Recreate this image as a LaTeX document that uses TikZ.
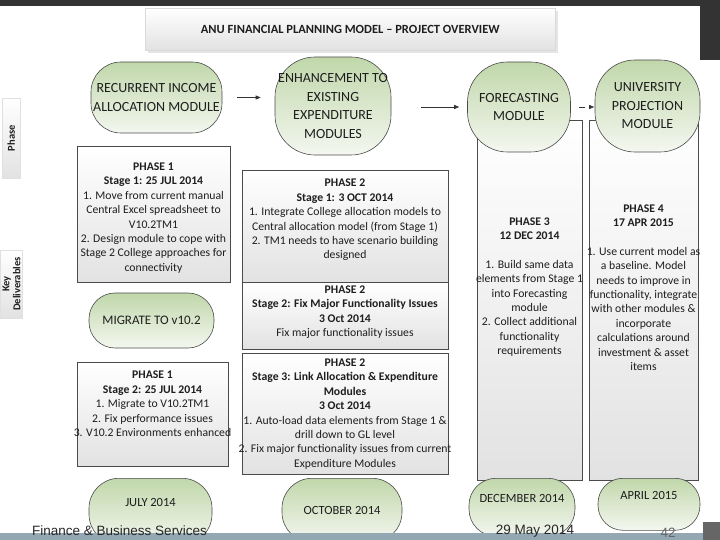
\documentclass[tikz,border=0pt]{standalone}
\usepackage{fontspec}
\setmainfont{Carlito}
\newfontfamily\arialf{Liberation Sans}
\usetikzlibrary{arrows.meta}
\definecolor{gtop}{RGB}{192,215,170}
\definecolor{gbot}{RGB}{244,247,240}
\definecolor{bord}{RGB}{75,75,75}
\definecolor{boxbot}{RGB}{226,226,226}
\definecolor{darkbar}{RGB}{51,51,51}
\definecolor{footbar}{RGB}{148,168,180}
\definecolor{txtc}{RGB}{30,30,30}
\tikzset{
  gshape/.style={draw=bord, line width=0.6pt, top color=gtop, bottom color=gbot, inner sep=0pt, align=center, text=txtc, font=\fontsize{14}{18.5}\selectfont},
  dbox/.style={draw=bord, line width=0.6pt, top color=white, bottom color=boxbot, inner sep=0pt},
  btxt/.style={align=center, text=txtc, font=\fontsize{11.7}{14.4}\selectfont, inner sep=0pt},
  arr/.style={-{Triangle[length=5pt,width=4pt]}, line width=0.7pt, draw=darkbar},
  sidelab/.style={top color=white, bottom color=boxbot, draw=black!12, inner sep=0pt},
}
\begin{document}
\begin{tikzpicture}[x=1pt,y=-1pt]
\useasboundingbox (0,0) rectangle (720,540);
% top bars
\fill[darkbar] (0,0) rectangle (720,6);
\fill[darkbar] (700,0) rectangle (720,60);
% title
\fill[black!10] (148,11) rectangle (558,53);
\node[dbox, draw=black!15, minimum width=410pt, minimum height=42pt, anchor=north west,
  font=\fontsize{12.5}{14}\selectfont\bfseries, text=txtc] (title) at (145,8) {ANU FINANCIAL PLANNING MODEL -- PROJECT OVERVIEW};
% side labels
\node[sidelab, minimum width=18pt, minimum height=80pt, anchor=north west] (phbox) at (2,98) {};
\node[rotate=90, font=\fontsize{10.5}{12}\selectfont\bfseries, text=txtc] (phlab) at (phbox.center) {Phase};
\node[sidelab, minimum width=22pt, minimum height=68pt, anchor=north west] (kdbox) at (0,250) {};
\node[rotate=90, align=center, font=\fontsize{10.5}{11}\selectfont\bfseries, text=txtc, inner sep=0pt] (kdlab) at (11.5,284) {Key\\Deliverables};
% tall boxes behind
\node[dbox, minimum width=105pt, minimum height=360pt, anchor=north west] (p3box) at (477,120) {};
\node[dbox, minimum width=109pt, minimum height=360pt, anchor=north west] (p4box) at (589,120) {};
% top modules
\node[gshape, minimum width=131pt, minimum height=71pt, rounded corners=30pt] (rec) at (156.5,97.5) {RECURRENT INCOME\\ALLOCATION MODULE};
\node[gshape, minimum width=116pt, minimum height=98pt, rounded corners=40pt] (enh) at (333,106) {ENHANCEMENT TO\\EXISTING\\EXPENDITURE\\MODULES};
\node[gshape, minimum width=103pt, minimum height=90pt, rounded corners=40pt] (fore) at (519,107) {FORECASTING\\MODULE};
\node[gshape, minimum width=105pt, minimum height=92pt, rounded corners=40pt] (univ) at (647.5,106) {UNIVERSITY\\PROJECTION\\MODULE};
\draw[arr, shorten <=15pt, shorten >=14pt] (rec.east) -- (rec.east -| enh.west);
\draw[arr, shorten <=30pt, shorten >=8pt] (enh.east |- fore.west) -- (fore.west);
\draw[arr, dash pattern=on 6pt off 5pt, shorten <=8pt, shorten >=0.5pt] (fore.east) -- (fore.east -| univ.west);
% phase 1 column
\node[dbox, minimum width=153pt, minimum height=136pt, anchor=north west] (p1s1) at (77,146) {};
\node[btxt] (p1s1t) at (153.5,218) {\textbf{PHASE 1}\\\textbf{Stage 1: 25 JUL 2014}\\1. Move from current manual\\Central Excel spreadsheet to\\V10.2TM1\\2. Design module to cope with\\Stage 2 College approaches for\\connectivity};
\node[gshape, minimum width=125pt, minimum height=55pt, rounded corners=26pt, font=\fontsize{13}{15}\selectfont] (mig) at (151.5,320.5) {MIGRATE TO v10.2};
\node[dbox, minimum width=151pt, minimum height=104pt, anchor=north west] (p1s2) at (77,362) {};
\node[btxt] (p1s2t) at (152.5,404) {\textbf{PHASE 1}\\\textbf{Stage 2: 25 JUL 2014}\\1. Migrate to V10.2TM1\\2. Fix performance issues\\3. V10.2 Environments enhanced};
% phase 2 column
\node[dbox, minimum width=206pt, minimum height=112pt, anchor=north west] (p2s1) at (242,170) {};
\node[btxt] (p2s1t) at (345,220) {\textbf{PHASE 2}\\\textbf{Stage 1: 3 OCT 2014}\\1. Integrate College allocation models to\\Central allocation model (from Stage 1)\\2. TM1 needs to have scenario building\\designed};
\node[dbox, minimum width=206pt, minimum height=67pt, anchor=north west] (p2s2) at (242,282) {};
\node[btxt] (p2s2t) at (345,312) {\textbf{PHASE 2}\\\textbf{Stage 2: Fix Major Functionality Issues}\\\textbf{3 Oct 2014}\\Fix major functionality issues};
\node[dbox, minimum width=206pt, minimum height=121pt, anchor=north west] (p2s3) at (242,353) {};
\node[btxt] (p2s3t) at (345,414) {\textbf{PHASE 2}\\\textbf{Stage 3: Link Allocation \& Expenditure}\\\textbf{Modules}\\\textbf{3 Oct 2014}\\1. Auto-load data elements from Stage 1 \&\\drill down to GL level\\2. Fix major functionality issues from current\\Expenditure Modules};
% phase 3 / 4 text
\node[btxt] (p3t) at (529.5,287) {\textbf{PHASE 3}\\\textbf{12 DEC 2014}\\[14.4pt]1. Build same data\\elements from Stage 1\\into Forecasting\\module\\2. Collect additional\\functionality\\requirements};
\node[btxt] (p4t) at (643.5,287.5) {\textbf{PHASE 4}\\\textbf{17 APR 2015}\\[14.4pt]1. Use current model as\\a baseline. Model\\needs to improve in\\functionality, integrate\\with other modules \&\\incorporate\\calculations around\\investment \& asset\\items};
% bottom milestones
\node[gshape, minimum width=123pt, minimum height=66pt, rounded corners=30pt, font=\fontsize{12.5}{14}\selectfont, anchor=north] (jul) at (150.5,478) {JULY 2014\\[4pt]};
\node[gshape, minimum width=120pt, minimum height=64pt, rounded corners=30pt, font=\fontsize{12.5}{14}\selectfont, anchor=north] (oct) at (342,478) {OCTOBER 2014};
\node[gshape, minimum width=106pt, minimum height=58pt, rounded corners=27pt, font=\fontsize{12.5}{14}\selectfont, anchor=north] (dec) at (522,478) {DECEMBER 2014\\[4pt]};
\node[gshape, minimum width=102pt, minimum height=52pt, rounded corners=25pt, font=\fontsize{12.5}{14}\selectfont, anchor=north] (apr) at (649,478) {APRIL 2015\\[4pt]};
% footer
\fill[footbar] (0,533) rectangle (703,540);
\fill[black!60] (703,522) rectangle (720,540);
\node[font=\arialf\fontsize{13.5}{15}\selectfont, anchor=west, text=black!85, inner sep=0pt] (foot1) at (32,531) {Finance \& Business Services};
\node[font=\arialf\fontsize{13.5}{15}\selectfont, text=black!85, inner sep=0pt] (foot2) at (535,531) {29 May 2014};
\node[font=\arialf\fontsize{13.5}{15}\selectfont, text=black!60, inner sep=0pt] (foot3) at (668,533) {42};
\end{tikzpicture}
\end{document}
